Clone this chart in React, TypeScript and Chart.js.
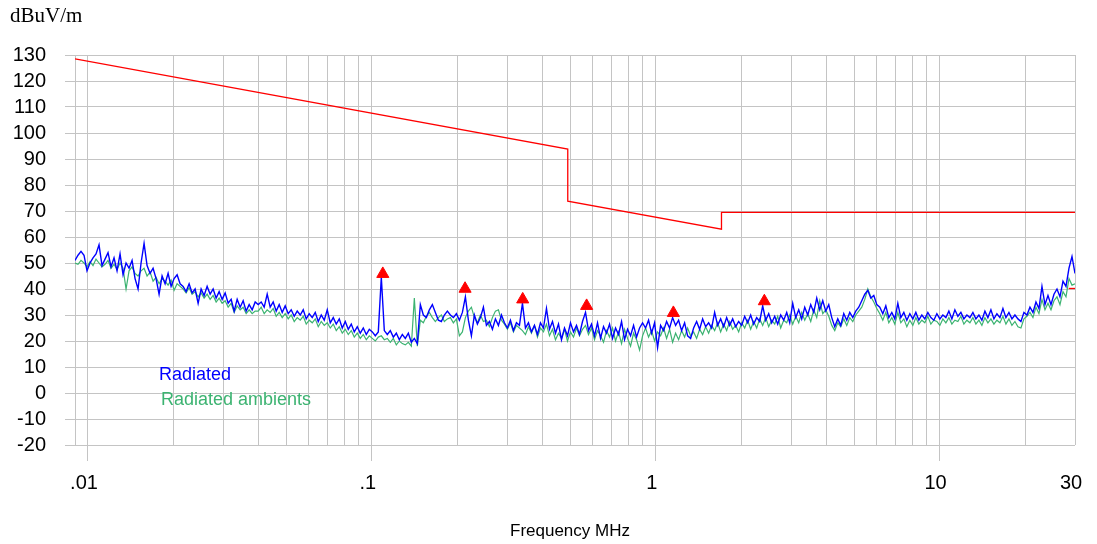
import React, { useEffect, useRef } from "react";
import { Chart, registerables } from "chart.js";

Chart.register(...registerables);

// Analyzer sweep (MHz), log-spaced readings from the start to the stop frequency
const SWEEP_START_MHZ = 0.009;
const SWEEP_STOP_MHZ = 30;

// "Radiated" trace readings (dBuV/m), one per sweep point
const RADIATED_DB = [
  51, 53, 54.5, 53, 47, 50, 52, 53.5, 57, 49, 51.5, 54, 48.5, 52, 47, 53.5, 45.5, 50, 48, 51,
  44, 40, 50, 57.5, 49, 46, 48, 44, 38, 45, 42, 46, 41, 44, 45.5, 42, 41, 39, 42, 38.5,
  40, 34.5, 40, 37.5, 41, 38, 40, 36.5, 39, 36, 38.5, 34.5, 36, 31.5, 36, 33, 35.5, 31.5, 34, 32, 35,
  34, 35, 33, 38, 33, 35, 31.5, 34, 31, 33.5, 30.5, 32, 29.5, 31.5, 30, 32, 28.5, 30.5, 29, 31,
  27.5, 30, 28, 32, 27, 29, 26.5, 28.5, 25, 27.5, 24.5, 26.5, 23.5, 25.5, 23, 25, 22.5, 24.5, 23.5, 22,
  23.5, 44.5, 24, 22.5, 24, 21.5, 23, 20.5, 22.5, 21, 23, 19.5, 21, 19, 34, 30, 29, 32, 34, 31,
  28, 27.5, 30, 31.5, 30,
  29, 30.5, 28, 31, 37, 28, 22, 30, 26.5, 29, 33, 26, 27.5, 24.5, 28.5, 26, 30, 27, 25, 28,
  24, 27, 26, 34.5, 25, 27, 23.5, 26, 22.5, 27, 25, 32.5, 24.5, 27.5, 23, 26.5, 20.5, 25, 22, 27,
  23.5, 26, 22.5, 27.5, 31, 24, 26.5, 22, 27, 21, 25.5, 23, 26.5, 21, 25, 22.5, 27.5, 20.5, 24.5, 22,
  26, 21.5, 25,
  27, 25, 28, 23, 27, 17.5, 26, 24, 27.5, 25, 29, 26, 28, 24, 27, 22, 21, 25, 27.5, 24.5,
  28.5, 25.5, 27, 25, 31, 26, 28.5, 25.5, 29, 26, 28.5, 25.5, 27.5, 26, 29.5, 27, 30, 26.5, 29, 27.5,
  33.5, 28, 30.5, 27, 29.5, 26.5, 30, 28, 31, 27, 34.5, 29, 32, 28.5, 33, 30, 34, 31, 36.5, 32,
  35.5, 31.5, 34,
  29, 25.5, 28.5, 26, 30.5, 28, 31, 29, 31.5, 33, 35.5, 38, 39.5, 36.5, 37.5, 34, 33, 30.5, 33.5, 29,
  31, 28.5, 34.5, 29, 31, 28, 30.5, 28.5, 31, 28, 30, 28.5, 31, 29, 28, 30.5, 28.5, 30, 29, 31.5,
  28.5, 32, 29.5, 31, 28.5, 30, 29, 31, 28.5, 30, 28, 31.5, 29, 32, 28.5, 30.5, 29, 32.5, 29, 31,
  28.5, 30, 28.5, 27.5, 31, 30, 33, 31, 35, 32.5, 41, 34, 37.5, 34, 38, 40, 37, 43, 41, 48,
  52.5, 46,
];

// "Radiated ambients" trace readings (dBuV/m), one per sweep point
const AMBIENT_DB = [
  50, 49.5, 51, 50, 48.5, 50.5, 49, 51.5, 50, 48.5, 49.5, 51, 48, 49.5, 47.5, 50, 48, 40, 47, 48.5,
  46, 45, 47, 48, 45, 46.5, 43, 44.5, 42, 44, 43, 41.5, 43.5, 39.5, 42, 41, 40, 38.5, 40.5, 38,
  39, 37, 38.5, 36.5, 38, 36, 37.5, 35, 36.5, 34.5, 35.5, 33, 34.5, 31, 33.5, 32, 33, 30.5, 32, 30.5, 31.5,
  31.5, 33, 30.5, 32, 31, 32.5, 29.5, 31, 29, 30.5, 28.5, 30, 27.5, 29, 28, 29.5, 26.5, 28, 27, 28.5,
  25.5, 27.5, 26, 27, 25, 26.5, 24, 25.5, 23, 24.5, 22.5, 24, 21.5, 23, 21, 22.5, 20.5, 22, 21, 20,
  21.5, 22, 20.5, 21, 19.5, 21, 18.5, 20, 19, 18.5, 19.5, 18, 36.5, 18, 28, 27, 29.5, 31, 29, 27.5,
  29, 30, 27.5, 28.5, 29,
  27, 28.5, 22, 23.5, 29, 31.5, 33, 29, 27, 30, 27.5, 28, 25.5, 29, 31.5, 32, 28, 26.5, 24.5, 27,
  23.5, 26, 25, 24, 22.5, 25.5, 23, 26, 21.5, 25, 23.5, 26.5, 22, 24.5, 20.5, 23, 21, 24.5, 20, 23.5,
  21.5, 25, 22, 24.5, 26, 22.5, 25, 20.5, 24, 22, 19.5, 24, 21.5, 25, 20, 23.5, 19, 24.5, 21, 18,
  23, 20.5, 16.5,
  22, 25, 21.5, 24, 20, 23.5, 22, 25, 21, 24.5, 19.5, 23, 20.5, 24, 21.5, 25, 22, 23.5, 21, 24.5,
  22.5, 25.5, 23, 26, 24, 27, 23.5, 26.5, 24, 27.5, 24.5, 26, 23.5, 27, 25, 28, 24.5, 27.5, 25, 28.5,
  26, 29, 25.5, 28, 26.5, 29.5, 25, 28, 27, 30, 26.5, 29.5, 27, 31, 28, 30.5, 27.5, 32, 29, 35.5,
  30.5, 32, 29.5,
  26, 24, 27, 25.5, 28.5, 26, 29, 27.5, 30, 31.5, 33, 36, 40, 37, 35, 32.5, 30.5, 28, 31, 27,
  29, 26.5, 31, 27, 28.5, 25.5, 28, 26, 29, 26.5, 28, 27, 29.5, 26.5, 28, 27.5, 26, 28.5, 27, 29,
  26.5, 28, 27.5, 29.5, 26.5, 28, 27, 29, 26.5, 28, 26, 29, 27, 28.5, 26.5, 28, 27, 29.5, 26.5, 28.5,
  26, 27.5, 25.5, 25, 28.5, 29.5, 31, 29, 33, 30.5, 36, 32, 34.5, 32, 35.5, 37, 34, 39, 37, 44,
  41.5, 42,
];

// Limit line (FCC 15.209 at 3 m)
const LIMIT_FREQ = [0.009, 0.49, 0.49, 1.705, 1.705, 30];
const LIMIT_DB = [128.5, 93.8, 73.8, 63.0, 69.5, 69.5];

// Short limit stub at the top of the range
const STUB_FREQ = [28.5, 30];
const STUB_DB = [40.2, 40.2];

// Peak markers
const PEAK_FREQ = [0.1093, 0.213, 0.34, 0.571, 1.154, 2.414];
const PEAK_DB = [45.8, 40.1, 36.0, 33.5, 30.8, 35.3];

// Axis ticks
const X_TICKS = [
  0.009, 0.01, 0.02, 0.03, 0.04, 0.05, 0.06, 0.07, 0.08, 0.09,
  0.1, 0.2, 0.3, 0.4, 0.5, 0.6, 0.7, 0.8, 0.9,
  1, 2, 3, 4, 5, 6, 7, 8, 9,
  10, 20, 30,
];
const X_TICK_TEXT = [
  "", ".01", "", "", "", "", "", "", "", "",
  ".1", "", "", "", "", "", "", "", "",
  "1", "", "", "", "", "", "", "", "",
  "10", "", "30",
];
const X_TICK_MARK = [
  false, true, false, false, false, false, false, false, false, false,
  true, false, false, false, false, false, false, false, false,
  true, false, false, false, false, false, false, false, false,
  true, false, false,
];
const Y_TICKS = [-20, -10, 0, 10, 20, 30, 40, 50, 60, 70, 80, 90, 100, 110, 120, 130];

const Y_UNIT = "dBuV/m";
const X_TITLE = "Frequency MHz";
const SERIES_NAMES = ["Radiated", "Radiated ambients"];

const BLUE = "#0000ff";
const GREEN = "#3cb371";
const RED = "#ff0000";
const GRID = "#c4c4c4";
const SANS = '"Liberation Sans", Arial, Helvetica, sans-serif';

export default function App() {
  const ref = useRef<HTMLCanvasElement>(null);

  useEffect(() => {
    const canvas = ref.current;
    if (!canvas) return;
    const n = RADIATED_DB.length;
    const freqs = RADIATED_DB.map(
      (_, i) => SWEEP_START_MHZ * Math.pow(SWEEP_STOP_MHZ / SWEEP_START_MHZ, i / (n - 1))
    );
    const pts = (fs: number[], vs: number[]) => fs.map((f, i) => ({ x: f, y: vs[i] }));

    const overlay = {
      id: "overlayText",
      afterDraw(chart: any) {
        const ctx = chart.ctx as CanvasRenderingContext2D;
        ctx.save();
        ctx.textAlign = "left";
        ctx.textBaseline = "alphabetic";
        ctx.fillStyle = "#000";
        ctx.font = "21px serif";
        ctx.fillText(Y_UNIT, 10, 22);
        ctx.font = `18px ${SANS}`;
        ctx.fillStyle = BLUE;
        ctx.fillText(SERIES_NAMES[0], 159, 380);
        ctx.fillStyle = GREEN;
        ctx.fillText(SERIES_NAMES[1], 161, 405);
        ctx.fillStyle = "#000";
        ctx.font = `17px ${SANS}`;
        ctx.textAlign = "center";
        ctx.fillText(X_TITLE, 570, 536);
        ctx.restore();
      },
    };

    const chart = new Chart(canvas, {
      type: "line",
      data: {
        datasets: [
          {
            label: "peaks",
            data: pts(PEAK_FREQ, PEAK_DB),
            showLine: false,
            pointStyle: "triangle",
            pointRadius: 7,
            pointBackgroundColor: RED,
            pointBorderColor: RED,
            pointBorderWidth: 1,
            order: 0,
          },
          {
            label: SERIES_NAMES[0],
            data: pts(freqs, RADIATED_DB),
            borderColor: BLUE,
            borderWidth: 1.4,
            pointRadius: 0,
            order: 1,
          },
          {
            label: SERIES_NAMES[1],
            data: pts(freqs, AMBIENT_DB),
            borderColor: GREEN,
            borderWidth: 1.2,
            pointRadius: 0,
            order: 2,
          },
          {
            label: "limit",
            data: pts(LIMIT_FREQ, LIMIT_DB),
            borderColor: RED,
            borderWidth: 1.3,
            pointRadius: 0,
            order: 3,
          },
          {
            label: "limit stub",
            data: pts(STUB_FREQ, STUB_DB),
            borderColor: RED,
            borderWidth: 1.3,
            pointRadius: 0,
            order: 3,
          },
        ],
      },
      options: {
        animation: false,
        responsive: true,
        maintainAspectRatio: false,
        devicePixelRatio: 1,
        events: [],
        layout: { padding: { top: 55, right: 22, left: 0, bottom: 0 } },
        plugins: {
          legend: { display: false },
          tooltip: { enabled: false },
          title: { display: false },
        },
        elements: { line: { tension: 0 } },
        scales: {
          x: {
            type: "logarithmic",
            min: SWEEP_START_MHZ,
            max: SWEEP_STOP_MHZ,
            afterBuildTicks: (s: any) => {
              s.ticks = X_TICKS.map((v) => ({ value: v }));
            },
            afterFit: (s: any) => {
              s.height = 99;
            },
            border: { display: false },
            grid: {
              color: GRID,
              lineWidth: 1,
              drawTicks: true,
              tickLength: 16,
              tickColor: (c: any) => (X_TICK_MARK[c.index] ? GRID : "rgba(0,0,0,0)"),
            },
            ticks: {
              autoSkip: false,
              maxRotation: 0,
              minRotation: 0,
              padding: 10,
              labelOffset: -4,
              color: "#000",
              font: { family: SANS, size: 20 },
              callback: (_v: any, i: number) => X_TICK_TEXT[i],
            },
            title: { display: false },
          },
          y: {
            type: "linear",
            min: Y_TICKS[0],
            max: Y_TICKS[Y_TICKS.length - 1],
            afterBuildTicks: (s: any) => {
              s.ticks = Y_TICKS.map((v) => ({ value: v }));
            },
            afterFit: (s: any) => {
              s.width = 75;
            },
            border: { display: false },
            grid: { color: GRID, lineWidth: 1, drawTicks: true, tickLength: 10, tickColor: GRID },
            ticks: {
              autoSkip: false,
              padding: 19,
              color: "#000",
              font: { family: SANS, size: 20 },
              callback: (v: any) => String(v),
            },
          },
        },
      },
      plugins: [overlay],
    } as any);

    return () => chart.destroy();
  }, []);

  return (
    <div
      style={{
        position: "fixed",
        left: 0,
        top: 0,
        width: 1097,
        height: 544,
        background: "#fff",
      }}
    >
      <canvas ref={ref} />
    </div>
  );
}
